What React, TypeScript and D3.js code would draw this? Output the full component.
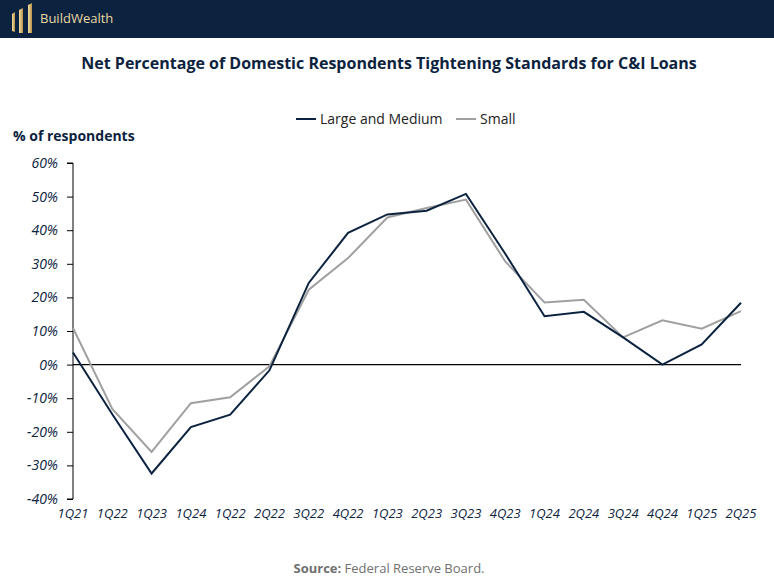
import React, { useEffect, useRef } from 'react';
import * as d3 from 'd3';

const categories = ['1Q21', '1Q22', '1Q23', '1Q24', '1Q22 ', '2Q22', '3Q22', '4Q22', '1Q23 ', '2Q23', '3Q23', '4Q23', '1Q24 ', '2Q24', '3Q24', '4Q24', '1Q25', '2Q25'];
const largeMedium = [3.6, -14.8, -32.4, -18.6, -14.9, -1.7, 24.3, 39.2, 44.7, 45.8, 50.8, 33.0, 14.4, 15.7, 8.1, 0, 6.0, 18.4];
const small = [10.9, -13.2, -26.0, -11.5, -9.7, -0.5, 22.3, 31.7, 43.8, 46.6, 49.1, 30.7, 18.5, 19.3, 8.1, 13.2, 10.7, 15.9];
const yTicks = [60, 50, 40, 30, 20, 10, 0, -10, -20, -30, -40];

const W = 774;
const H = 580;
const NAVY = '#0c2340';
const GREY = '#a0a0a0';

export default function App() {
  const ref = useRef<SVGSVGElement>(null);

  useEffect(() => {
    if (!ref.current) return;
    const svg = d3.select(ref.current);
    svg.selectAll('*').remove();

    const font = '"Open Sans", "Noto Sans", sans-serif';

    // header bar
    svg.append('rect').attr('x', 0).attr('y', 0).attr('width', W).attr('height', 38).attr('fill', NAVY);

    const defs = svg.append('defs');
    const grad = defs.append('linearGradient').attr('id', 'gold').attr('x1', '0%').attr('x2', '100%');
    grad.append('stop').attr('offset', '0%').attr('stop-color', '#f3dfa0');
    grad.append('stop').attr('offset', '100%').attr('stop-color', '#b8914a');

    // logo bars
    const bars = [
      [[12, 14], [15, 12], [15, 32], [12, 31]],
      [[19, 10], [23, 8], [23, 33], [19, 33]],
      [[28, 5], [32, 3], [32, 33], [28, 33]],
    ];
    bars.forEach(p => {
      svg.append('polygon').attr('points', p.map(q => q.join(',')).join(' ')).attr('fill', 'url(#gold)');
    });
    svg.append('text').attr('x', 40).attr('y', 23).attr('fill', '#e9d7a3')
      .attr('font-family', font).attr('font-size', 13).text('BuildWealth');

    // title
    svg.append('text').attr('x', 389).attr('y', 69).attr('text-anchor', 'middle')
      .attr('fill', NAVY).attr('font-family', font).attr('font-weight', 700).attr('font-size', 16)
      .text('Net Percentage of Domestic Respondents Tightening Standards for C&I Loans');

    // legend
    const lg = svg.append('g').attr('font-family', font).attr('font-size', 14).attr('fill', '#222');
    lg.append('line').attr('x1', 296).attr('x2', 316).attr('y1', 119).attr('y2', 119).attr('stroke', NAVY).attr('stroke-width', 2);
    lg.append('text').attr('x', 320).attr('y', 124).text('Large and Medium');
    lg.append('line').attr('x1', 456).attr('x2', 476).attr('y1', 119).attr('y2', 119).attr('stroke', GREY).attr('stroke-width', 2);
    lg.append('text').attr('x', 480).attr('y', 124).text('Small');

    svg.append('text').attr('x', 13).attr('y', 141).attr('fill', NAVY)
      .attr('font-family', font).attr('font-weight', 700).attr('font-size', 14).text('% of respondents');

    const left = 73;
    const right = 741;
    const x = d3.scalePoint<string>().domain(categories).range([left, right]);
    const y = d3.scaleLinear().domain([-40, 60]).range([499, 163]);

    // y axis
    const yAxis = svg.append('g').attr('transform', `translate(${left},0)`)
      .call(d3.axisLeft(y).tickValues(yTicks).tickSize(6).tickFormat(d => `${d}%`));
    yAxis.select('.domain').attr('stroke', '#000').attr('d', `M-6,${y(60)}H0V${y(-40)}H-6`);
    yAxis.selectAll('.tick line').attr('stroke', '#000');
    yAxis.selectAll('.tick text').attr('fill', NAVY).attr('font-family', font)
      .attr('font-size', 14).attr('font-style', 'italic').attr('x', -15);

    // zero line
    svg.append('line').attr('x1', left).attr('x2', right).attr('y1', y(0)).attr('y2', y(0))
      .attr('stroke', '#000').attr('stroke-width', 1.3);

    // x labels
    svg.append('g').selectAll('text').data(categories).join('text')
      .attr('x', d => x(d)!).attr('y', 518).attr('text-anchor', 'middle')
      .attr('fill', NAVY).attr('font-family', font).attr('font-size', 13).attr('font-style', 'italic')
      .text(d => d.trim());

    const line = d3.line<number>().x((_, i) => x(categories[i])!).y(d => y(d));

    svg.append('path').datum(small).attr('d', line).attr('fill', 'none')
      .attr('stroke', GREY).attr('stroke-width', 2);
    svg.append('path').datum(largeMedium).attr('d', line).attr('fill', 'none')
      .attr('stroke', NAVY).attr('stroke-width', 2);

    // source
    const src = svg.append('text').attr('x', 389).attr('y', 573).attr('text-anchor', 'middle')
      .attr('fill', '#707070').attr('font-family', font).attr('font-size', 13);
    src.append('tspan').attr('font-weight', 700).text('Source:');
    src.append('tspan').text(' Federal Reserve Board.');
  }, []);

  return (
    <div style={{ position: 'absolute', left: 0, top: 0, width: W, height: H, background: '#fff' }}>
      <svg ref={ref} width={W} height={H} />
    </div>
  );
}
